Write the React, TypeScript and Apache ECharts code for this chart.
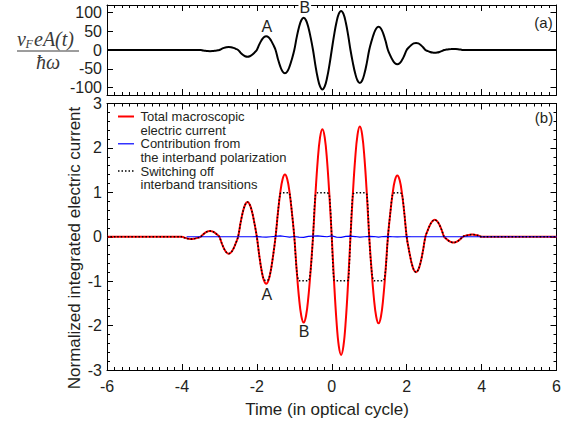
import React, { useEffect, useRef } from "react";
import * as echarts from "echarts";

// Sampling grid for the dense curves (time in optical cycles)
const DENSE_START = -4;
const DENSE_STEP = 1 / 16;

// (a) normalized vector potential vF e A(t) / (hbar omega), t = -4 .. 4 step 1/16
const vectorPotential = [
  0, 0, 0, 0, 0, 0, 0, 0,
  0, -1.15, -2.12, -2.77, -3, -2.77, -2.12, -1.15,
  0, 3.06, 5.66, 7.39, 8, 7.39, 5.66, 3.06,
  0, -6.89, -12.73, -16.63, -18, -16.63, -12.73, -6.89,
  0, 14.17, 26.16, 34.19, 37, 34.19, 26.16, 14.17,
  0, -23.75, -43.83, -57.29, -62, -57.29, -43.83, -23.75,
  0, 32.94, 60.8, 79.46, 86, 79.46, 60.8, 32.94,
  0, -40.2, -74.2, -97, -105, -97, -74.2, -40.2,
  0, 39.8, 73.5, 96.1, 104, 96.1, 73.5, 39.8,
  0, -33.7, -62.2, -81.3, -88, -81.3, -62.2, -33.7,
  0, 23.75, 43.83, 57.29, 62, 57.29, 43.83, 23.75,
  0, -14.55, -26.87, -35.11, -38, -35.11, -26.87, -14.55,
  0, 7.28, 13.43, 17.56, 19, 17.56, 13.43, 7.28,
  0, -2.87, -5.3, -6.93, -7.5, -6.93, -5.3, -2.87,
  0, 1.15, 2.12, 2.77, 3, 2.77, 2.12, 1.15,
  0, 0, 0, 0, 0, 0, 0, 0,
  0,
];

// (b) total macroscopic electric current, t = -4 .. 4 step 1/16
const totalCurrent = [
  0, -0.02, -0.035, -0.046, -0.05, -0.046, -0.035, -0.02,
  0, 0.05, 0.092, 0.12, 0.13, 0.12, 0.092, 0.05,
  0, -0.146, -0.269, -0.351, -0.38, -0.351, -0.269, -0.146,
  0, 0.299, 0.551, 0.721, 0.78, 0.721, 0.551, 0.299,
  0, -0.406, -0.75, -0.98, -1.06, -0.98, -0.75, -0.406,
  0, 0.536, 0.99, 1.294, 1.4, 1.294, 0.99, 0.536,
  0, -0.739, -1.365, -1.783, -1.93, -1.783, -1.365, -0.739,
  0, 0.927, 1.711, 2.236, 2.42, 2.236, 1.711, 0.927,
  0, -1.019, -1.881, -2.458, -2.66, -2.458, -1.881, -1.019,
  0, 0.95, 1.753, 2.292, 2.48, 2.292, 1.753, 0.95,
  0, -0.747, -1.379, -1.802, -1.95, -1.802, -1.379, -0.747,
  0, 0.529, 0.976, 1.275, 1.38, 1.275, 0.976, 0.529,
  0, -0.306, -0.566, -0.739, -0.8, -0.739, -0.566, -0.306,
  0, 0.146, 0.269, 0.351, 0.38, 0.351, 0.269, 0.146,
  0, -0.05, -0.092, -0.12, -0.13, -0.12, -0.092, -0.05,
  0, 0.02, 0.035, 0.046, 0.05, 0.046, 0.035, 0.02,
  0,
];

// (b) switching off interband transitions, t = -4 .. 4 step 1/16
const intrabandCurrent = [
  0, -0.02, -0.035, -0.046, -0.05, -0.046, -0.035, -0.02,
  0, 0.05, 0.092, 0.12, 0.13, 0.12, 0.092, 0.05,
  0, -0.146, -0.269, -0.351, -0.38, -0.351, -0.269, -0.146,
  0, 0.299, 0.551, 0.721, 0.78, 0.721, 0.551, 0.299,
  0, -0.406, -0.75, -0.96, -0.99, -0.96, -0.75, -0.406,
  0, 0.536, 0.97, 0.99, 0.99, 0.99, 0.97, 0.536,
  0, -0.739, -0.99, -0.99, -0.99, -0.99, -0.99, -0.739,
  0, 0.927, 0.99, 0.99, 0.99, 0.99, 0.99, 0.927,
  0, -0.98, -0.99, -0.99, -0.99, -0.99, -0.99, -0.98,
  0, 0.95, 0.99, 0.99, 0.99, 0.99, 0.99, 0.95,
  0, -0.747, -0.99, -0.99, -0.99, -0.99, -0.99, -0.747,
  0, 0.529, 0.96, 0.99, 0.99, 0.99, 0.96, 0.529,
  0, -0.306, -0.566, -0.739, -0.8, -0.739, -0.566, -0.306,
  0, 0.146, 0.269, 0.351, 0.38, 0.351, 0.269, 0.146,
  0, -0.05, -0.092, -0.12, -0.13, -0.12, -0.092, -0.05,
  0, 0.02, 0.035, 0.046, 0.05, 0.046, 0.035, 0.02,
  0,
];

// (b) contribution from the interband polarization, t = -3.875 .. 4 step 1/8
const POL_START = -3.875;
const POL_STEP = 1 / 8;
const polarizationCurrent = [
  0, 0, 0, 0, 0, 0, 0, 0, 0, 0, 0, 0, 0, 0, 0,
  0.005, -0.005, -0.01, 0, 0.01, 0.02, 0.005, -0.01,
  0.005, -0.01, -0.015, 0.01, 0.015, 0.02, 0.01, 0,
  0.02, -0.01, -0.015, 0.01, 0.015, 0.005, -0.01, 0,
  0.01, 0.005, -0.01, 0.005, 0.01, 0, -0.005, 0, 0.005,
  0, 0, 0, 0, 0, 0, 0, 0, 0, 0, 0, 0, 0, 0, 0, 0,
];

const X_MIN = -6;
const X_MAX = 6;
const X_TICKS_STEP = 2;
const A_TICKS = [-100, -50, 0, 50, 100];
const A_RANGE = [-120, 120];
const J_RANGE = [-3, 3];

const legendLabels = [
  ["Total macroscopic", "electric current"],
  ["Contribution from", "the interband polarization"],
  ["Switching off", "interband transitions"],
];

const SANS = '"Liberation Sans", Arial, Helvetica, sans-serif';
const SERIF = '"Liberation Serif", "Times New Roman", serif';
const TXT = "#231f20";
const MATH = "#3a3a3a";

function pairs(start: number, step: number, vals: number[]) {
  const out: number[][] = [[X_MIN, 0]];
  vals.forEach((v, i) => out.push([start + i * step, v]));
  out.push([X_MAX, 0]);
  return out;
}

function xAxisDef(grid: number, pos: "top" | "bottom", labels: boolean) {
  return {
    type: "value",
    gridIndex: grid,
    position: pos,
    min: X_MIN,
    max: X_MAX,
    interval: X_TICKS_STEP,
    axisLine: { show: true, onZero: false, lineStyle: { color: "#000", width: 1 } },
    axisTick: { show: true, inside: true, length: 6, lineStyle: { color: "#000" } },
    minorTick: { show: true, splitNumber: 10, length: 3, lineStyle: { color: "#000" } },
    splitLine: { show: false },
    minorSplitLine: { show: false },
    axisLabel: {
      show: labels,
      color: TXT,
      fontSize: 16,
      fontFamily: SANS,
      margin: 8,
    },
  };
}

function labelPoint(text: string, x: number, y: number, bg?: boolean) {
  return {
    coord: [x, y],
    symbol: "rect",
    symbolSize: 1,
    itemStyle: { color: "rgba(0,0,0,0)" },
    label: {
      show: true,
      position: "inside",
      formatter: text,
      color: TXT,
      fontSize: 16,
      fontFamily: SANS,
      backgroundColor: bg ? "#fff" : "transparent",
      padding: bg ? [0, 1] : 0,
    },
  };
}

function leftText(text: string, x: number, y: number, font: string, fill: string, lineHeight?: number) {
  const style: any = {
    text,
    x,
    y,
    fill,
    font,
    align: "left",
    verticalAlign: "middle",
    textAlign: "left",
    textVerticalAlign: "middle",
  };
  if (lineHeight) style.lineHeight = lineHeight;
  return { type: "text", style };
}

function centerText(text: string, x: number, y: number, font: string, fill: string, rotation = 0) {
  return {
    type: "text",
    x,
    y,
    rotation,
    style: {
      text,
      x: 0,
      y: 0,
      fill,
      font,
      align: "center",
      verticalAlign: "middle",
      textAlign: "center",
      textVerticalAlign: "middle",
    },
  };
}

export default function App() {
  const ref = useRef<HTMLDivElement>(null);

  useEffect(() => {
    if (!ref.current) return;
    const chart = echarts.init(ref.current, undefined, { renderer: "svg" });

    const legendY = [116.5, 143.8, 171];
    const legendStyles = [
      { stroke: "#ff0000", lineWidth: 2 },
      { stroke: "#0000ff", lineWidth: 1.2 },
      { stroke: "#000", lineWidth: 1.5, lineDash: [1.5, 2] },
    ];
    const legendGraphics: any[] = [];
    legendLabels.forEach((lines, i) => {
      legendGraphics.push({
        type: "line",
        shape: { x1: 118, y1: legendY[i], x2: 134, y2: legendY[i] },
        style: legendStyles[i],
      });
      lines.forEach((t, j) => {
        legendGraphics.push(leftText(t, 140.5, legendY[i] + j * 13.5, `13px ${SANS}`, TXT, 13));
      });
    });

    const yAxes: any[] = [];
    [0, 1].forEach((k) => {
      yAxes.push({
        type: "value",
        gridIndex: 0,
        position: k === 0 ? "left" : "right",
        min: A_RANGE[0],
        max: A_RANGE[1],
        axisLine: { show: true, onZero: false, lineStyle: { color: "#000", width: 1 } },
        axisTick: { show: true, inside: true, length: 6, customValues: A_TICKS, lineStyle: { color: "#000" } },
        splitLine: { show: false },
        axisLabel: {
          show: k === 0,
          customValues: A_TICKS,
          color: TXT,
          fontSize: 16,
          fontFamily: SANS,
          margin: 5,
        },
      });
    });
    [0, 1].forEach((k) => {
      yAxes.push({
        type: "value",
        gridIndex: 1,
        position: k === 0 ? "left" : "right",
        min: J_RANGE[0],
        max: J_RANGE[1],
        interval: 1,
        axisLine: { show: true, onZero: false, lineStyle: { color: "#000", width: 1 } },
        axisTick: { show: true, inside: true, length: 6, lineStyle: { color: "#000" } },
        minorTick: { show: true, splitNumber: 5, length: 3, lineStyle: { color: "#000" } },
        splitLine: { show: false },
        axisLabel: {
          show: k === 0,
          color: TXT,
          fontSize: 16,
          fontFamily: SANS,
          margin: 5,
        },
      });
    });

    const polData = pairs(POL_START, POL_STEP, polarizationCurrent);
    polData.shift();

    const option: any = {
      animation: false,
      backgroundColor: "#fff",
      grid: [
        { left: 107, right: 9.5, top: 5, height: 90 },
        { left: 107, right: 9.5, top: 103.5, height: 266.5 },
      ],
      xAxis: [
        xAxisDef(0, "bottom", false),
        xAxisDef(0, "top", false),
        xAxisDef(1, "bottom", true),
        xAxisDef(1, "top", false),
      ],
      yAxis: yAxes,
      series: [
        {
          type: "line",
          name: "vector potential",
          xAxisIndex: 0,
          yAxisIndex: 0,
          data: pairs(DENSE_START, DENSE_STEP, vectorPotential),
          showSymbol: false,
          smooth: 0.4,
          lineStyle: { color: "#000", width: 2 },
          markPoint: {
            data: [labelPoint("A", -1.73, 63), labelPoint("B", -0.72, 114, true)],
          },
        },
        {
          type: "line",
          name: "Total macroscopic electric current",
          xAxisIndex: 2,
          yAxisIndex: 2,
          data: pairs(DENSE_START, DENSE_STEP, totalCurrent),
          showSymbol: false,
          smooth: 0.4,
          lineStyle: { color: "#ff0000", width: 2 },
          markPoint: {
            data: [labelPoint("A", -1.73, -1.31), labelPoint("B", -0.74, -2.14)],
          },
        },
        {
          type: "line",
          name: "Contribution from the interband polarization",
          xAxisIndex: 2,
          yAxisIndex: 2,
          data: polData,
          showSymbol: false,
          lineStyle: { color: "#0000ff", width: 1.2 },
        },
        {
          type: "line",
          name: "Switching off interband transitions",
          xAxisIndex: 2,
          yAxisIndex: 2,
          data: pairs(DENSE_START, DENSE_STEP, intrabandCurrent),
          showSymbol: false,
          smooth: 0.3,
          lineStyle: { color: "#000", width: 1.5, type: [1.5, 2] },
        },
      ],
      graphic: [
        ...legendGraphics,
        centerText("(a)", 543.5, 22, `15px ${SANS}`, TXT),
        centerText("(b)", 544, 117.5, `15px ${SANS}`, TXT),
        centerText("Time (in optical cycle)", 327, 409, `17px ${SANS}`, TXT),
        centerText("Normalized integrated electric current", 74, 248, `17px ${SANS}`, TXT, Math.PI / 2),
        leftText("v", 17, 39, `italic 20px ${SERIF}`, MATH),
        leftText("F", 25.5, 43.5, `italic 12px ${SERIF}`, MATH),
        leftText("eA(t)", 34, 39, `italic 20px ${SERIF}`, MATH),
        {
          type: "line",
          shape: { x1: 17, y1: 51, x2: 79, y2: 51 },
          style: { stroke: MATH, lineWidth: 1 },
        },
        centerText("ħω", 48, 62, `italic 20px ${SERIF}`, MATH),
      ],
    };

    chart.setOption(option);
    return () => chart.dispose();
  }, []);

  return (
    <div
      ref={ref}
      style={{ position: "fixed", left: 0, top: 0, width: 566, height: 424, background: "#fff" }}
    />
  );
}
